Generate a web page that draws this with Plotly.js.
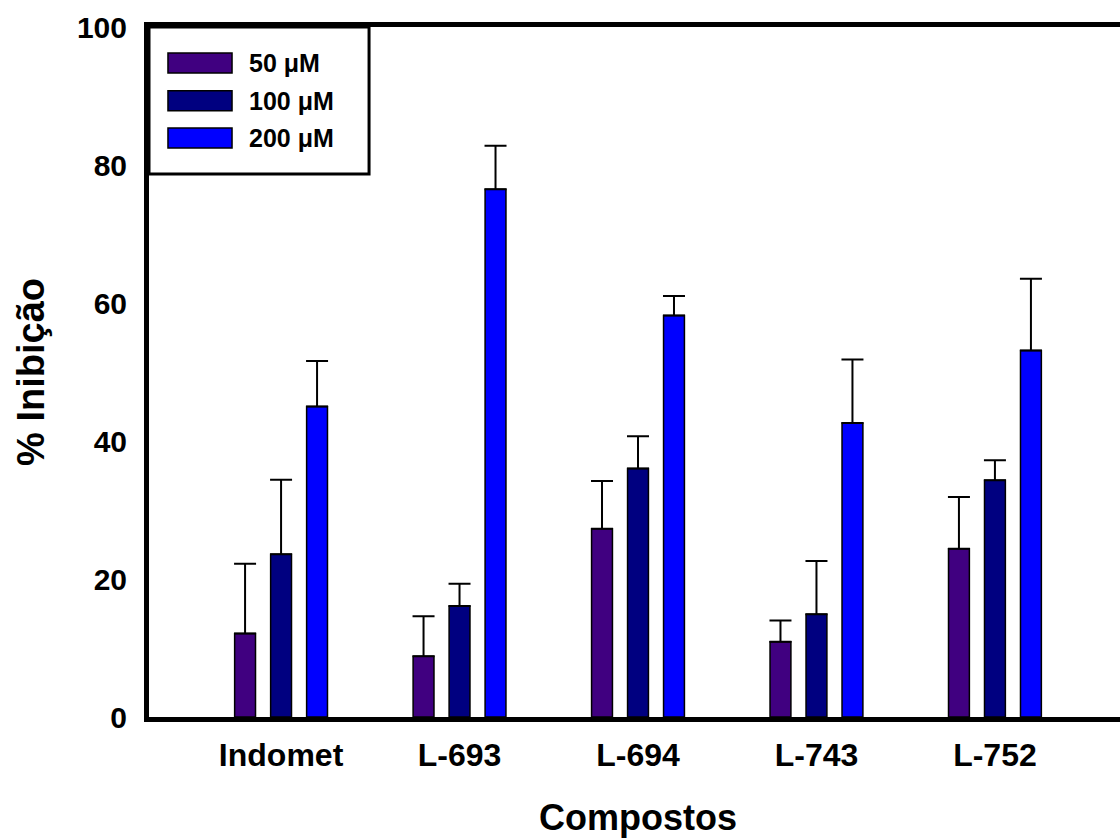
<!DOCTYPE html>
<html>
<head>
<meta charset="utf-8">
<script src="https://cdn.plot.ly/plotly-3.0.1.min.js"></script>
<style>
html,body{margin:0;padding:0;overflow:hidden;background:#fff;}
#chart{width:1132px;height:838px;}
</style>
</head>
<body>
<div id="chart"></div>
<script>
const categories = ['Indomet', 'L-693', 'L-694', 'L-743', 'L-752'];
const seriesNames = ['50 \u03bcM', '100 \u03bcM', '200 \u03bcM'];
const v50  = [12.1, 8.8, 27.3, 10.9, 24.4];
const e50  = [10.1, 5.8, 6.9, 3.1, 7.5];
const v100 = [23.6, 16.1, 36.0, 14.9, 34.3];
const e100 = [10.8, 3.2, 4.7, 7.7, 2.9];
const v200 = [45.0, 76.5, 58.2, 42.6, 53.1];
const e200 = [6.6, 6.3, 2.8, 9.2, 10.4];
const yTicks = [0, 20, 40, 60, 80, 100];
const colors = ['#400080', '#000080', '#0000ff'];

const FONT = 'Liberation Sans, Arial, sans-serif';
const values = [v50, v100, v200];
const errors = [e50, e100, e200];

const traces = values.map((v, i) => ({
  type: 'bar',
  name: seriesNames[i],
  x: categories,
  y: v,
  marker: {color: colors[i], line: {color: '#000', width: 1.5}},
  error_y: {type: 'data', array: errors[i], arrayminus: v.map(() => 0), symmetric: false,
            color: '#000', thickness: 2, width: 11},
  showlegend: false,
  hoverinfo: 'x+y'
}));

// custom legend (large swatches like the original)
const shapes = [{
  type: 'rect', xref: 'paper', yref: 'paper', x0: 0, x1: 0.225, y0: 0.787, y1: 1,
  line: {color: '#000', width: 3}, fillcolor: 'rgba(255,255,255,0)'
}];
const annotations = [];
const legY = [0.948, 0.893, 0.839];
seriesNames.forEach((n, i) => {
  shapes.push({type: 'rect', xref: 'paper', yref: 'paper', x0: 0.0194, x1: 0.0849,
    y0: legY[i] - 0.0145, y1: legY[i] + 0.0145, fillcolor: colors[i], line: {color: '#000', width: 1.5}});
  annotations.push({xref: 'paper', yref: 'paper', x: 0.1002, y: legY[i], xanchor: 'left', yanchor: 'middle',
    text: n, showarrow: false, font: {family: FONT, size: 25, color: '#000', weight: 'bold'}});
});

const layout = {
  width: 1132, height: 838,
  margin: {l: 149, r: 5, t: 27, b: 121},
  paper_bgcolor: '#fff', plot_bgcolor: '#fff',
  barmode: 'group', bargap: 0.395, bargroupgap: 0.42,
  font: {family: FONT, color: '#000'},
  xaxis: {
    range: [-0.74, 4.74], showline: true, linewidth: 5, linecolor: '#000', mirror: true,
    ticks: '', showgrid: false, zeroline: false, automargin: false,
    tickfont: {family: FONT, size: 32, color: '#000', weight: 'bold'},
    ticklabelstandoff: 6,
    title: {text: 'Compostos', font: {family: FONT, size: 36, color: '#000', weight: 'bold'}, standoff: 42}
  },
  yaxis: {
    range: [0, 100], tickvals: yTicks, ticktext: yTicks.map(String),
    showline: true, linewidth: 5, linecolor: '#000', mirror: true,
    ticks: '', showgrid: false, zeroline: false, automargin: false,
    tickfont: {family: FONT, size: 30, color: '#000', weight: 'bold'},
    ticklabelstandoff: 11,
    title: {text: '% Inibição', font: {family: FONT, size: 38, color: '#000', weight: 'bold'}, standoff: 22}
  },
  shapes: shapes,
  annotations: annotations,
  showlegend: false
};

Plotly.newPlot('chart', traces, layout, {displayModeBar: false, staticPlot: true});
</script>
</body>
</html>
